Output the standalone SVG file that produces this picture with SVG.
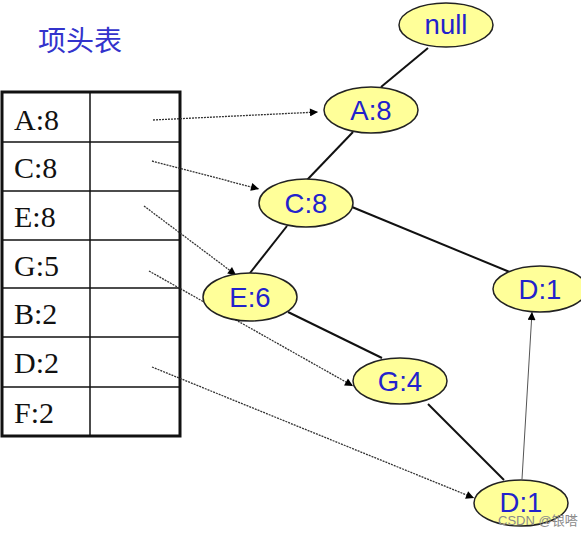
<svg xmlns="http://www.w3.org/2000/svg" width="581" height="534" viewBox="0 0 581 534">
<style>
.node ellipse{fill:#ffff99;stroke:#222;stroke-width:1.5}
.node text{font-family:"Liberation Sans",Arial,sans-serif;font-size:27.5px;fill:#2222cc;text-anchor:middle}
.cell{font-family:"Liberation Serif","Times New Roman",serif;font-size:30px;fill:#111}
.edge{stroke:#111;stroke-width:2;fill:none}
.ptr{stroke:#333;stroke-width:1.3;stroke-dasharray:2 1;fill:none;marker-end:url(#ah)}
.up{stroke:#555;stroke-width:1;fill:none;marker-end:url(#ah)}
</style>
<defs>
<marker id="ah" viewBox="0 0 10 10" refX="10" refY="5" markerWidth="10" markerHeight="8" markerUnits="userSpaceOnUse" orient="auto">
<path d="M0,0 L10,5 L0,10 z" fill="#000"/>
</marker>
</defs>
<rect width="581" height="534" fill="#fff"/>
<text x="38" y="51" font-family="'Noto Sans CJK SC',sans-serif" font-size="28" fill="#3333cc">项头表</text>
<g id="table">
<rect x="2" y="92" width="178" height="344" fill="#fff" stroke="#111" stroke-width="3"/>
<line x1="90" y1="92" x2="90" y2="436" stroke="#111" stroke-width="1.5"/>
<g stroke="#111" stroke-width="1.5">
<line x1="2" y1="142" x2="180" y2="142"/>
<line x1="2" y1="191" x2="180" y2="191"/>
<line x1="2" y1="240" x2="180" y2="240"/>
<line x1="2" y1="288" x2="180" y2="288"/>
<line x1="2" y1="337" x2="180" y2="337"/>
<line x1="2" y1="387" x2="180" y2="387"/>
</g>
<text class="cell" x="14" y="130">A:8</text>
<text class="cell" x="14" y="178">C:8</text>
<text class="cell" x="14" y="227">E:8</text>
<text class="cell" x="14" y="276">G:5</text>
<text class="cell" x="14" y="324">B:2</text>
<text class="cell" x="14" y="373">D:2</text>
<text class="cell" x="14" y="423">F:2</text>
</g>
<g id="connectors">
<line class="edge" x1="428" y1="48" x2="381" y2="87"/>
<line class="edge" x1="353" y1="132" x2="307" y2="180"/>
<line class="edge" x1="352" y1="207" x2="512" y2="273"/>
<line class="edge" x1="287" y1="226" x2="250" y2="273"/>
<line class="edge" x1="288" y1="312" x2="382" y2="358"/>
<line class="edge" x1="428" y1="404" x2="504" y2="480"/>
<line class="up" x1="522" y1="479" x2="532" y2="312"/>
<line class="ptr" x1="153" y1="120" x2="318" y2="112"/>
<line class="ptr" x1="152" y1="161" x2="259" y2="189"/>
<line class="ptr" x1="144" y1="206" x2="236" y2="275"/>
<line class="ptr" x1="149" y1="271" x2="353" y2="386"/>
<line class="ptr" x1="152" y1="367" x2="474" y2="498"/>
</g>
<g id="n-null" class="node"><ellipse cx="446" cy="25" rx="47" ry="22"/><text x="446" y="34">null</text></g>
<g id="n-A8" class="node"><ellipse cx="371" cy="110" rx="47" ry="23"/><text x="371" y="120">A:8</text></g>
<g id="n-C8" class="node"><ellipse cx="306" cy="203" rx="47" ry="24"/><text x="306" y="213">C:8</text></g>
<g id="n-E6" class="node"><ellipse cx="250" cy="297" rx="47" ry="24"/><text x="250" y="307">E:6</text></g>
<g id="n-G4" class="node"><ellipse cx="400" cy="381" rx="47" ry="23"/><text x="400" y="391">G:4</text></g>
<g id="n-D1a" class="node"><ellipse cx="540" cy="289" rx="47" ry="23"/><text x="540" y="299">D:1</text></g>
<g id="n-D1b" class="node"><ellipse cx="521" cy="503" rx="47" ry="23"/><text x="521" y="512">D:1</text></g>
<text x="498" y="525" font-family="'Liberation Sans','Noto Sans CJK SC',sans-serif" font-size="13" fill="#8a8a8a">CSDN @银嗒</text>
</svg>
